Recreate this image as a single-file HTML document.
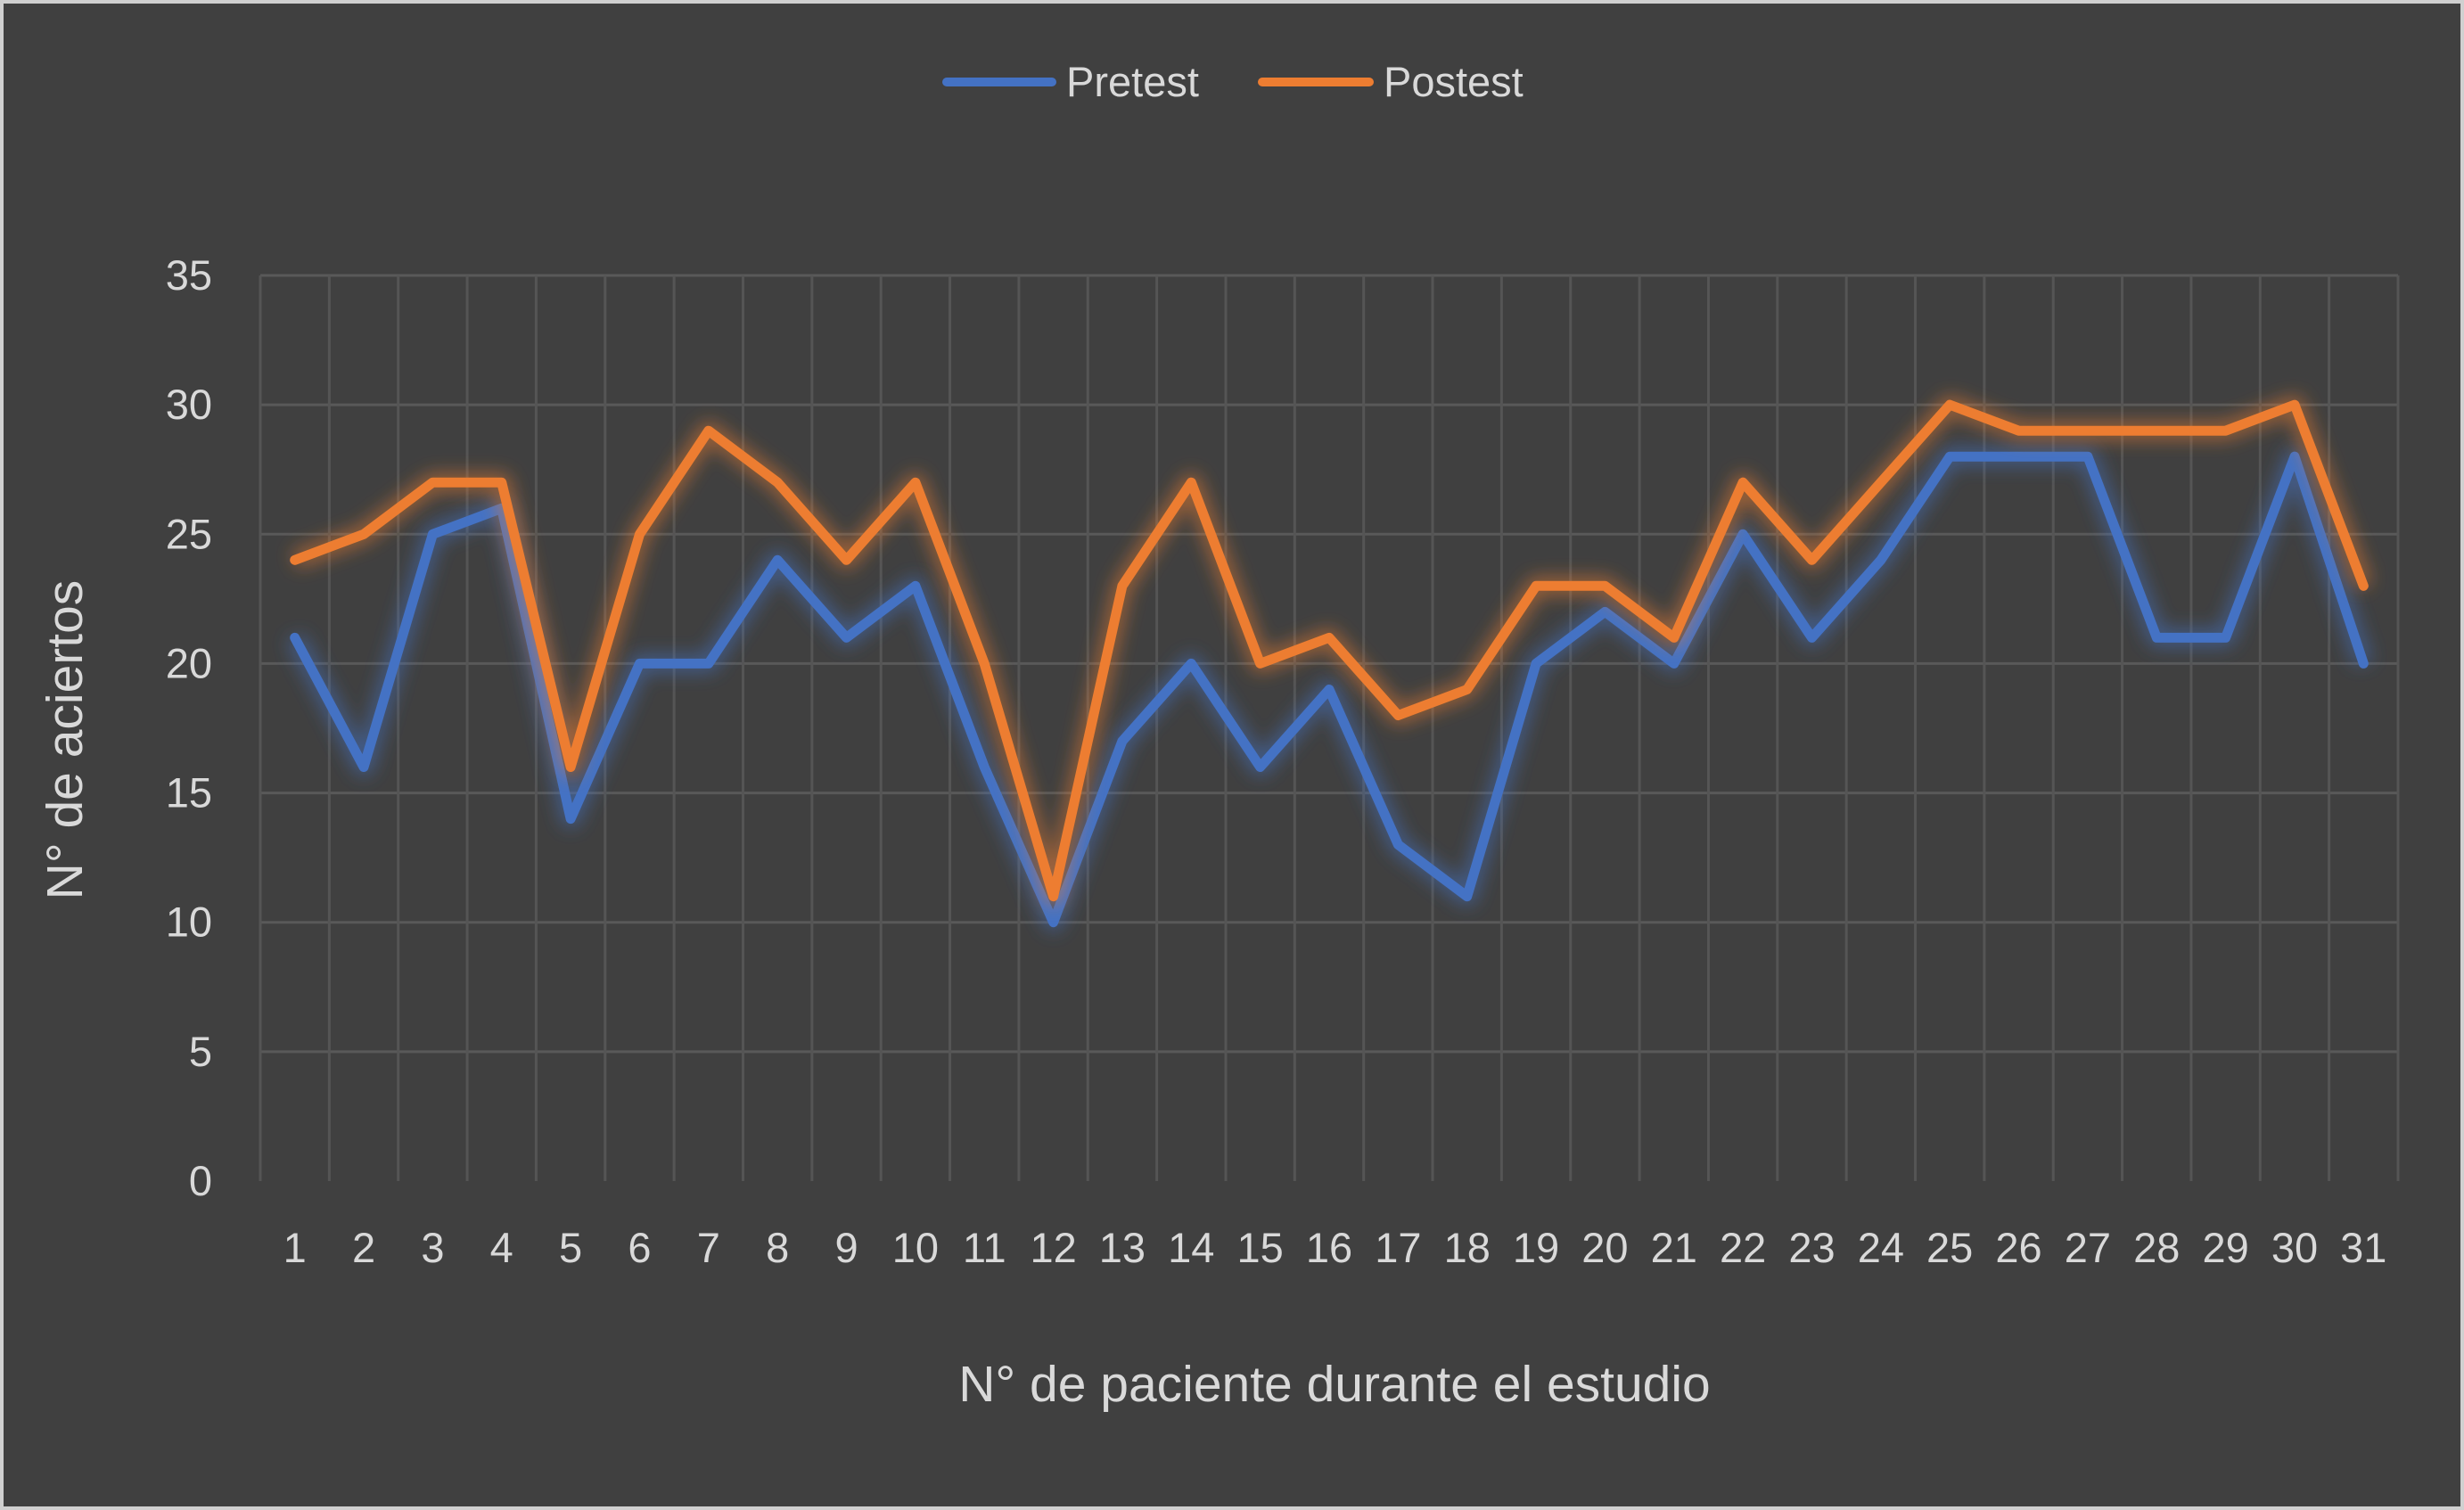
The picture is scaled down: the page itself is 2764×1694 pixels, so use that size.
<!DOCTYPE html>
<html><head><meta charset="utf-8">
<style>
html,body{margin:0;padding:0;background:#404040;}
svg{display:block;font-family:"Liberation Sans",sans-serif;}
</style></head>
<body>
<svg id="chart" width="2764" height="1694" viewBox="0 0 2764 1694">
<defs>
<filter id="glow" x="-10%" y="-10%" width="120%" height="120%"><feGaussianBlur stdDeviation="10"/></filter>
</defs>
<rect x="2" y="2" width="2760" height="1690" fill="#404040" stroke="#d0d0d0" stroke-width="4"/>
<g id="grid"></g>
<g id="series"></g>
<g id="labels"></g>
<g>
<g>
<line x1="1062" y1="92" x2="1180" y2="92" stroke="#4472c4" stroke-width="10" stroke-linecap="round"/>
<text x="1196" y="108" font-size="47" fill="#d9d9d9">Pretest</text></g>
<g>
<line x1="1416" y1="92" x2="1536" y2="92" stroke="#ed7d31" stroke-width="10" stroke-linecap="round"/>
<text x="1552" y="108" font-size="47" fill="#d9d9d9">Postest</text></g>
</g>
<text x="1497" y="1572" font-size="57" fill="#d9d9d9" text-anchor="middle">N° de paciente durante el estudio</text>
<text transform="translate(92,830) rotate(-90)" font-size="57" fill="#d9d9d9" text-anchor="middle">N° de aciertos</text>
</svg>
<script>
const categories = Array.from({length:31},(_,i)=>String(i+1));
const pretest = [21,16,25,26,14,20,20,24,21,23,16,10,17,20,16,19,13,11,20,22,20,25,21,24,28,28,28,21,21,28,20];
const postest = [24,25,27,27,16,25,29,27,24,27,20,11,23,27,20,21,18,19,23,23,21,27,24,27,30,29,29,29,29,30,23];
const yTicks = [0,5,10,15,20,25,30,35];
const L=292,R=2690,T=309,B=1325,YMAX=35;
const bw=(R-L)/categories.length;
const xs=i=>L+bw*(i+0.5);
const ys=v=>B-(v/YMAX)*(B-T);
const NS="http://www.w3.org/2000/svg";
const grid=document.getElementById('grid'),series=document.getElementById('series'),labels=document.getElementById('labels');
function mk(tag,attrs,parent){const e=document.createElementNS(NS,tag);for(const k in attrs)e.setAttribute(k,attrs[k]);parent.appendChild(e);return e;}
yTicks.forEach(t=>{
  if(t>0){const g=mk('line',{x1:L,x2:R,y1:ys(t),y2:ys(t),stroke:'#595959','stroke-width':3},grid);
  
  }
  const tx=mk('text',{x:238,y:ys(t)+16,'font-size':47,fill:'#d9d9d9','text-anchor':'end'},labels);
  tx.textContent=t;
  
  
});
for(let i=0;i<=categories.length;i++){
  const x=L+bw*i;
  const g=mk('line',{x1:x,x2:x,y1:T,y2:B,stroke:'#555555','stroke-width':3},grid);
  
  
}
categories.forEach((c,i)=>{
  const tx=mk('text',{x:xs(i),y:1416,'font-size':47,fill:'#d9d9d9','text-anchor':'middle'},labels);
  tx.textContent=c;
  
  
});
function draw(vals,color,name){
  const d=vals.map((v,i)=>(i?'L':'M')+xs(i).toFixed(1)+','+ys(v).toFixed(1)).join(' ');
  mk('path',{d:d,fill:'none',stroke:color,'stroke-width':20,'stroke-opacity':0.55,filter:'url(#glow)','stroke-linejoin':'round'},series);
  const p=mk('path',{d:d,fill:'none',stroke:color,'stroke-width':11,'stroke-linejoin':'round','stroke-linecap':'round'},series);
  
  
}
draw(pretest,'#4472c4','pretest-line');
draw(postest,'#ed7d31','postest-line');
</script>
</body></html>
